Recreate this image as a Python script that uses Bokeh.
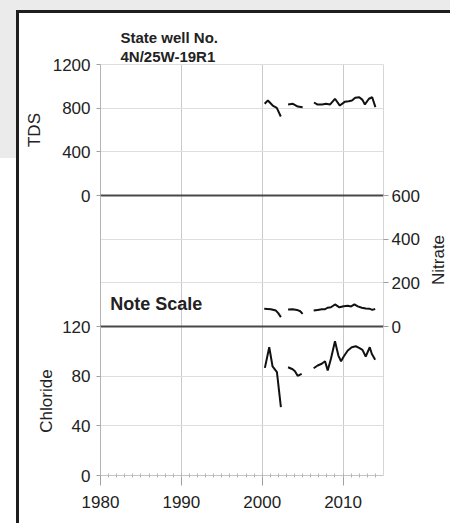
import math
import numpy as np
from bokeh.plotting import figure
from bokeh.models import Range1d, FixedTicker, Label, LinearAxis, Title
from bokeh.layouts import column, row
from bokeh.embed import file_html
from bokeh.resources import INLINE

nan = float("nan")

# ---- data (NaN = gap in record) ----
tds_year = [2000.3, 2000.7, 2001.3, 2001.8, 2002.3, nan,
            2003.2, 2003.8, 2004.4, 2005.0, nan,
            2006.4, 2006.8, 2007.4, 2007.9, 2008.4, 2009.0, 2009.6, 2010.2, 2010.7,
            2011.1, 2011.5, 2012.0, 2012.4, 2012.7, 2013.2, 2013.6, 2014.0]
tds = [840, 870, 824, 803, 724, nan,
       834, 840, 815, 809, nan,
       852, 834, 834, 840, 834, 886, 824, 858, 864,
       870, 895, 900, 876, 834, 886, 900, 809]

no3_year = [2000.25, 2001.07, 2001.69, 2001.98, 2002.31, nan,
            2003.2, 2003.76, 2004.3, 2004.7, 2005.0, nan,
            2006.36, 2006.86, 2007.36, 2007.77, 2008.1, 2008.5, 2009.0, 2009.55, 2010.08,
            2010.58, 2011.0, 2011.4, 2011.82, 2012.32, 2012.8, 2013.3, 2013.63, 2013.97]
nitrate = [81, 79, 73, 61, 43, nan,
           78, 79, 76, 70, 58, nan,
           73, 76, 79, 79, 86, 88, 101, 88, 93,
           95, 92, 101, 92, 86, 82, 81, 76, 81]

cl_year = [2000.33, 2000.87, 2001.28, 2001.82, 2002.31, nan,
           2003.2, 2003.76, 2004.05, 2004.38, 2004.88, nan,
           2006.36, 2006.86, 2007.36, 2007.77, 2008.1, 2008.5, 2009.0, 2009.42, 2009.75,
           2010.08, 2010.58, 2011.08, 2011.57, 2011.98, 2012.4, 2012.8, 2013.3, 2013.55, 2013.97]
chloride = [86.7, 103.3, 87.8, 83.2, 55, nan,
            87.2, 85.6, 84, 80.3, 81.9, nan,
            86.4, 88.6, 90, 92, 84.6, 94, 108.2, 96.6, 92,
            95.8, 100.7, 103.3, 104.1, 102.8, 101.2, 95.8, 103.3, 98, 93.2]

year_ticks = [1980, 1990, 2000, 2010]
tds_ticks = [0, 400, 800, 1200]
no3_ticks = [0, 200, 400, 600]
cl_ticks = [0, 40, 80, 120]

FONT = "Liberation Sans"
TXT = "#222222"
LINE = "#111111"
PAD = 10
xr = Range1d(1980, 2015)


def make(frame_h, yr, top, bottom, right=66, styles=None):
    p = figure(frame_width=283, frame_height=frame_h, x_range=xr, y_range=yr,
               min_border_left=100, min_border_right=right,
               min_border_top=top, min_border_bottom=bottom,
               x_axis_location=None, y_axis_location=None, title=None,
               toolbar_location=None, output_backend="svg",
               border_fill_color=None, background_fill_color=None,
               outline_line_color=None, styles=styles or {})
    p.xgrid.ticker = FixedTicker(ticks=[1990, 2000, 2010])
    p.xgrid.grid_line_color = "#cacaca"
    p.ygrid.grid_line_color = "#dedede"
    return p


def edge(p, side, color, width=1):
    ax = LinearAxis(ticker=FixedTicker(ticks=[]), axis_line_color=color,
                    axis_line_width=width, major_tick_line_color=None,
                    minor_tick_line_color=None, major_label_standoff=0,
                    axis_label_standoff=0, major_tick_out=0, major_tick_in=0)
    p.add_layout(ax, side)


def style_y(ax, label):
    ax.axis_label = label
    ax.axis_label_text_font = FONT
    ax.axis_label_text_font_size = "17px"
    ax.axis_label_text_font_style = "normal"
    ax.axis_label_text_color = TXT
    ax.axis_label_standoff = 6
    ax.major_label_text_font = FONT
    ax.major_label_text_font_size = "17px"
    ax.major_label_text_color = TXT
    ax.major_tick_in = 0
    ax.major_tick_out = 4
    ax.major_tick_line_color = "#a0a0a0"
    ax.minor_tick_line_color = None
    ax.axis_line_color = "#b4b4b4"
    ax.major_label_standoff = 6


# ---- TDS panel ----
p1 = make(131, Range1d(0, 1200), 64, PAD)
p1.ygrid.ticker = FixedTicker(ticks=[400, 800])
ax1 = LinearAxis(ticker=FixedTicker(ticks=tds_ticks))
style_y(ax1, "TDS")
p1.add_layout(ax1, "left")
edge(p1, "right", "#d6d6d6")
edge(p1, "above", "#dedede")
p1.add_layout(Title(text="4N/25W-19R1", align="left", offset=20, standoff=0,
                    text_font=FONT, text_font_size="15px", text_font_style="bold",
                    text_color=TXT), "above")
p1.add_layout(Title(text="State well No.", align="left", offset=20, standoff=0,
                    text_font=FONT, text_font_size="15px", text_font_style="bold",
                    text_color=TXT), "above")
p1.line(tds_year, tds, line_color=LINE, line_width=2)

# ---- Nitrate panel ----
p2 = make(131, Range1d(0, 600), PAD, PAD, right=38)
p2.ygrid.ticker = FixedTicker(ticks=[200, 400])
ax2 = LinearAxis(ticker=FixedTicker(ticks=no3_ticks))
style_y(ax2, "")
ax2.axis_label = None
ax2.major_tick_out = 5
ax2.major_label_standoff = 3
ax2.axis_line_color = "#d6d6d6"
p2.add_layout(ax2, "right")
edge(p2, "left", "#b4b4b4")
edge(p2, "above", "#484848", 2)
p2.line(no3_year, nitrate, line_color=LINE, line_width=2)
p2.add_layout(Label(x=1981.2, y=55, text="Note Scale", text_font=FONT,
                    text_font_size="18px", text_font_style="bold", text_color=TXT))

# side strip carrying the upward-reading "Nitrate" title
p2b = figure(frame_width=28, frame_height=131 + 2 * PAD, x_range=Range1d(0, 1),
             y_range=Range1d(0, 1), min_border=0, x_axis_location=None,
             y_axis_location=None, title=None, toolbar_location=None,
             output_backend="svg", border_fill_color=None,
             background_fill_color=None, outline_line_color=None)
p2b.grid.visible = False
p2b.add_layout(Label(x=0.57, y=0.573, text="Nitrate", angle=math.pi / 2,
                     text_align="center", text_baseline="middle", text_font=FONT,
                     text_font_size="17px", text_color=TXT))

mid = row(p2, p2b, spacing=0, styles={"margin-top": f"-{2 * PAD}px"})

# ---- Chloride panel ----
p3 = make(149, Range1d(0, 120), PAD, 48, styles={"margin-top": f"-{2 * PAD}px"})
p3.ygrid.ticker = FixedTicker(ticks=[40, 80])
ax3 = LinearAxis(ticker=FixedTicker(ticks=cl_ticks))
style_y(ax3, "Chloride")
ax3.axis_label_standoff = 3
p3.add_layout(ax3, "left")
edge(p3, "right", "#d6d6d6")
edge(p3, "above", "#484848", 2)
xax = LinearAxis(ticker=FixedTicker(ticks=year_ticks, minor_ticks=list(range(1981, 2015))))
xax.major_label_text_font = FONT
xax.major_label_text_font_size = "17px"
xax.major_label_text_color = TXT
xax.major_tick_in = 0
xax.major_tick_out = 10
xax.major_tick_line_color = "#a0a0a0"
xax.minor_tick_in = 2
xax.minor_tick_out = 2
xax.minor_tick_line_color = "#b4b4b4"
xax.axis_line_color = "#c4c4c4"
xax.major_label_standoff = 10
p3.add_layout(xax, "below")
p3.line(cl_year, chloride, line_color=LINE, line_width=2)

layout = column(p1, mid, p3, spacing=0, styles={
    "background-color": "white",
    "background-image": "linear-gradient(#1e1e1e,#1e1e1e), linear-gradient(#1e1e1e,#1e1e1e), "
                        "linear-gradient(#ebebeb,#ebebeb), linear-gradient(#ebebeb,#ebebeb)",
    "background-size": "3px 100%, 100% 3px, 16px 158px, 100% 10px",
    "background-position": "16px 10px, 16px 10px, 0px 0px, 0px 0px",
    "background-repeat": "no-repeat",
})

open("out.html", "w").write(file_html(layout, INLINE))
